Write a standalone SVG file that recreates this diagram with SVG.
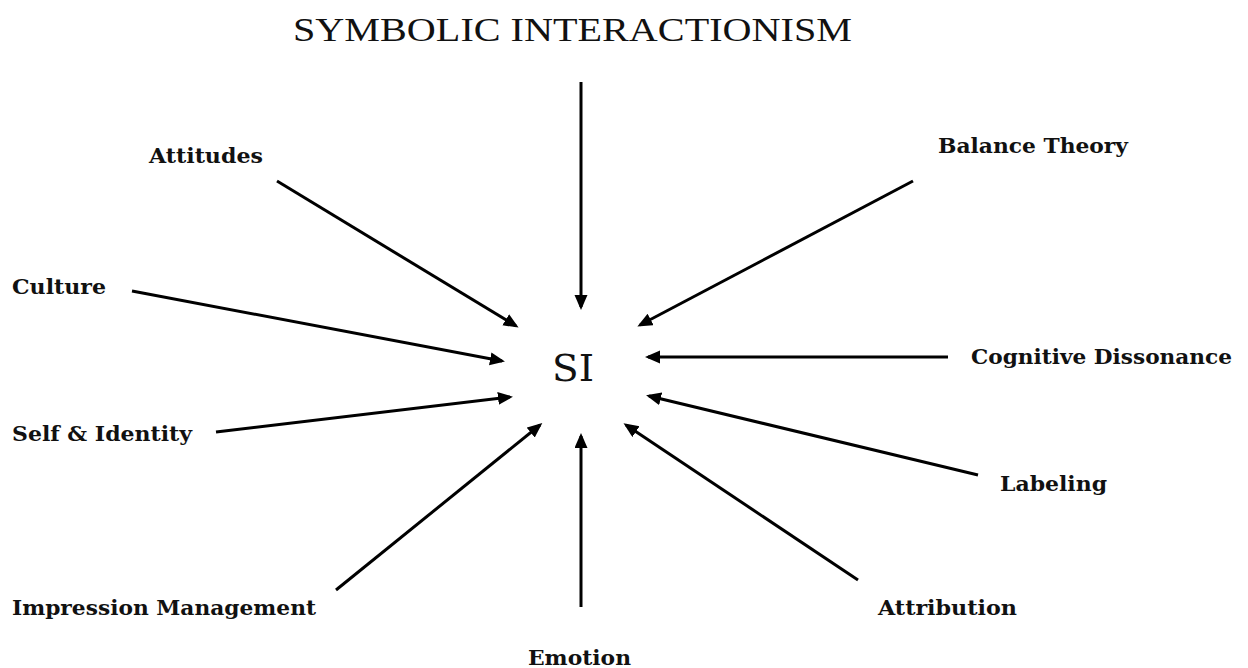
<svg xmlns="http://www.w3.org/2000/svg" width="1248" height="668" viewBox="0 0 1248 668">
<style>
.lbl{font-family:"DejaVu Serif","Liberation Serif",serif;font-size:21px;font-weight:bold;fill:#111}
.title{font-family:"Liberation Serif","DejaVu Serif",serif;font-size:33px;fill:#111}
.si{font-family:"DejaVu Serif","Liberation Serif",serif;font-size:37px;fill:#111}
.c line{stroke:#000;stroke-width:3;marker-end:url(#ah)}
</style>
<defs>
<marker id="ah" markerUnits="userSpaceOnUse" markerWidth="16" markerHeight="14" refX="12" refY="6.5" orient="auto">
<path d="M0,0 L15,6.5 L0,13 z" fill="#000"/>
</marker>
</defs>
<rect width="1248" height="668" fill="#fff"/>
<g id="title"><text class="title" x="293" y="41" textLength="559" lengthAdjust="spacingAndGlyphs">SYMBOLIC INTERACTIONISM</text></g>
<g id="si"><text class="si" x="552" y="381" textLength="42" lengthAdjust="spacingAndGlyphs">SI</text></g>
<g id="attitudes"><text class="lbl" x="149" y="163" textLength="114" lengthAdjust="spacingAndGlyphs">Attitudes</text></g>
<g id="balance"><text class="lbl" x="938" y="153" textLength="190" lengthAdjust="spacingAndGlyphs">Balance Theory</text></g>
<g id="culture"><text class="lbl" x="12" y="294" textLength="94" lengthAdjust="spacingAndGlyphs">Culture</text></g>
<g id="cognitive"><text class="lbl" x="971" y="364" textLength="261" lengthAdjust="spacingAndGlyphs">Cognitive Dissonance</text></g>
<g id="self"><text class="lbl" x="12" y="441" textLength="180" lengthAdjust="spacingAndGlyphs">Self &amp; Identity</text></g>
<g id="labeling"><text class="lbl" x="1000" y="491" textLength="107" lengthAdjust="spacingAndGlyphs">Labeling</text></g>
<g id="impression"><text class="lbl" x="12" y="615" textLength="304" lengthAdjust="spacingAndGlyphs">Impression Management</text></g>
<g id="attribution"><text class="lbl" x="878" y="615" textLength="139" lengthAdjust="spacingAndGlyphs">Attribution</text></g>
<g id="emotion"><text class="lbl" x="528" y="665" textLength="103" lengthAdjust="spacingAndGlyphs">Emotion</text></g>
<g id="connectors" class="c">
<line x1="581" y1="82" x2="581" y2="307"/>
<line x1="277" y1="181" x2="516" y2="326"/>
<line x1="132" y1="291" x2="502" y2="361"/>
<line x1="216" y1="432" x2="510" y2="397"/>
<line x1="913" y1="181" x2="640" y2="325"/>
<line x1="948" y1="357" x2="648" y2="357"/>
<line x1="978" y1="475" x2="649" y2="396"/>
<line x1="858" y1="580" x2="626" y2="425"/>
<line x1="581" y1="607" x2="581" y2="436"/>
<line x1="336" y1="590" x2="540" y2="425"/>
</g>
</svg>
